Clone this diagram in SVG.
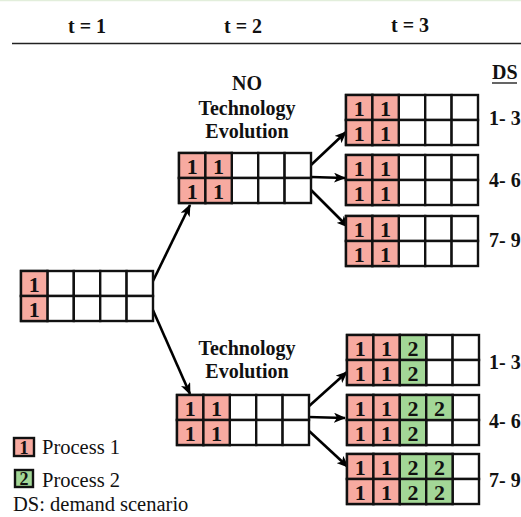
<svg xmlns="http://www.w3.org/2000/svg" width="521" height="517" viewBox="0 0 521 517">
  <defs>
    <style>
      text { font-family: "Liberation Serif", "DejaVu Serif", serif; fill: #111; }
      .hdr { font-weight: bold; font-size: 20px; text-anchor: middle; }
      .lbl { font-weight: bold; font-size: 20px; text-anchor: middle; }
      .ds { font-weight: bold; font-size: 20px; }
      .leg { font-size: 20.5px; }
      .num { font-weight: bold; font-size: 22px; text-anchor: middle; }
      .c { fill: #fff; stroke: #111; stroke-width: 2.4; }
      .p1 { fill: #f7aaa0; stroke: #111; stroke-width: 2.4; }
      .p2 { fill: #a3d797; stroke: #111; stroke-width: 2.4; }
      .edge { stroke: #000; stroke-width: 2.6; fill: none; marker-end: url(#arr); }
    </style>
    <marker id="arr" viewBox="0 0 12 10" refX="11" refY="5" markerWidth="12" markerHeight="10" markerUnits="userSpaceOnUse" orient="auto">
      <path d="M0,0 L12,5 L0,10 L3,5 z" fill="#000"/>
    </marker>
    <!-- empty 5x2 capacity grid, 132 x 50 -->
    <g id="grid">
      <rect class="c" x="0" y="0" width="26.4" height="25"/>
      <rect class="c" x="26.4" y="0" width="26.4" height="25"/>
      <rect class="c" x="52.8" y="0" width="26.4" height="25"/>
      <rect class="c" x="79.2" y="0" width="26.4" height="25"/>
      <rect class="c" x="105.6" y="0" width="26.4" height="25"/>
      <rect class="c" x="0" y="25" width="26.4" height="25"/>
      <rect class="c" x="26.4" y="25" width="26.4" height="25"/>
      <rect class="c" x="52.8" y="25" width="26.4" height="25"/>
      <rect class="c" x="79.2" y="25" width="26.4" height="25"/>
      <rect class="c" x="105.6" y="25" width="26.4" height="25"/>
    </g>
    <g id="p1a"><rect class="p1" x="0" y="0" width="26.4" height="25"/><text class="num" x="13.2" y="20.5">1</text></g>
    <g id="p1b"><rect class="p1" x="26.4" y="0" width="26.4" height="25"/><text class="num" x="39.6" y="20.5">1</text></g>
    <g id="p1c"><rect class="p1" x="0" y="25" width="26.4" height="25"/><text class="num" x="13.2" y="45.5">1</text></g>
    <g id="p1d"><rect class="p1" x="26.4" y="25" width="26.4" height="25"/><text class="num" x="39.6" y="45.5">1</text></g>
    <g id="p2a"><rect class="p2" x="52.8" y="0" width="26.4" height="25"/><text class="num" x="66" y="20.5">2</text></g>
    <g id="p2b"><rect class="p2" x="79.2" y="0" width="26.4" height="25"/><text class="num" x="92.4" y="20.5">2</text></g>
    <g id="p2c"><rect class="p2" x="52.8" y="25" width="26.4" height="25"/><text class="num" x="66" y="45.5">2</text></g>
    <g id="p2d"><rect class="p2" x="79.2" y="25" width="26.4" height="25"/><text class="num" x="92.4" y="45.5">2</text></g>
  </defs>

  <rect width="521" height="517" fill="#fff"/>
  <line x1="0" y1="0.5" x2="521" y2="0.5" stroke="#e2eedb" stroke-width="1.5"/>

  <!-- time axis -->
  <g id="header">
    <text class="hdr" x="87" y="33">t = 1</text>
    <text class="hdr" x="243" y="33">t = 2</text>
    <text class="hdr" x="410" y="32">t = 3</text>
    <line x1="12" y1="43.5" x2="521" y2="43.5" stroke="#222" stroke-width="1.5"/>
    <text class="ds" x="492" y="79">DS</text>
    <line x1="492" y1="83" x2="517" y2="83" stroke="#111" stroke-width="1.3"/>
  </g>

  <g id="connectors">
    <line class="edge" x1="152" y1="283" x2="190" y2="205"/>
    <line class="edge" x1="152" y1="308" x2="190" y2="394"/>
    <line class="edge" x1="311" y1="165" x2="346" y2="132"/>
    <line class="edge" x1="311" y1="177" x2="345" y2="178"/>
    <line class="edge" x1="311" y1="190" x2="348" y2="227"/>
    <line class="edge" x1="308" y1="407" x2="347" y2="372"/>
    <line class="edge" x1="308" y1="417" x2="345" y2="418"/>
    <line class="edge" x1="308" y1="430" x2="348" y2="467"/>
  </g>

  <!-- t = 1 -->
  <g id="n0" transform="translate(21,271)">
    <use href="#grid"/><use href="#p1a"/><use href="#p1c"/>
  </g>

  <!-- t = 2, no technology evolution -->
  <g id="label-no-evo">
    <text class="lbl" x="247" y="90">NO</text>
    <text class="lbl" x="247" y="115">Technology</text>
    <text class="lbl" x="247" y="138">Evolution</text>
  </g>
  <g id="n1" transform="translate(179,153)">
    <use href="#grid"/><use href="#p1a"/><use href="#p1b"/><use href="#p1c"/><use href="#p1d"/>
  </g>

  <!-- t = 2, technology evolution -->
  <g id="label-evo">
    <text class="lbl" x="247" y="355">Technology</text>
    <text class="lbl" x="247" y="378">Evolution</text>
  </g>
  <g id="n2" transform="translate(177,395)">
    <use href="#grid"/><use href="#p1a"/><use href="#p1b"/><use href="#p1c"/><use href="#p1d"/>
  </g>

  <!-- t = 3, upper branch -->
  <g id="n3" transform="translate(346,95)">
    <use href="#grid"/><use href="#p1a"/><use href="#p1b"/><use href="#p1c"/><use href="#p1d"/>
  </g>
  <g id="n4" transform="translate(346,155)">
    <use href="#grid"/><use href="#p1a"/><use href="#p1b"/><use href="#p1c"/><use href="#p1d"/>
  </g>
  <g id="n5" transform="translate(346,216)">
    <use href="#grid"/><use href="#p1a"/><use href="#p1b"/><use href="#p1c"/><use href="#p1d"/>
  </g>

  <!-- t = 3, lower branch -->
  <g id="n6" transform="translate(347,335)">
    <use href="#grid"/><use href="#p1a"/><use href="#p1b"/><use href="#p1c"/><use href="#p1d"/>
    <use href="#p2a"/><use href="#p2c"/>
  </g>
  <g id="n7" transform="translate(347,395)">
    <use href="#grid"/><use href="#p1a"/><use href="#p1b"/><use href="#p1c"/><use href="#p1d"/>
    <use href="#p2a"/><use href="#p2b"/><use href="#p2c"/>
  </g>
  <g id="n8" transform="translate(347,454)">
    <use href="#grid"/><use href="#p1a"/><use href="#p1b"/><use href="#p1c"/><use href="#p1d"/>
    <use href="#p2a"/><use href="#p2b"/><use href="#p2c"/><use href="#p2d"/>
  </g>

  <!-- demand scenarios -->
  <g id="ds-labels">
    <text class="ds" x="489" y="125">1- 3</text>
    <text class="ds" x="489" y="187">4- 6</text>
    <text class="ds" x="489" y="247">7- 9</text>
    <text class="ds" x="489" y="369">1- 3</text>
    <text class="ds" x="489" y="428">4- 6</text>
    <text class="ds" x="489" y="487">7- 9</text>
  </g>

  <!-- legend -->
  <g id="legend">
    <rect class="p1" x="14" y="438" width="20" height="18"/>
    <text class="num" x="24" y="454" style="font-size:19px">1</text>
    <text class="leg" x="42" y="454">Process 1</text>
    <rect class="p2" x="15" y="470" width="18" height="17"/>
    <text class="num" x="24" y="485" style="font-size:18px">2</text>
    <text class="leg" x="42" y="487">Process 2</text>
    <text class="leg" x="13" y="511">DS: demand scenario</text>
  </g>
</svg>
